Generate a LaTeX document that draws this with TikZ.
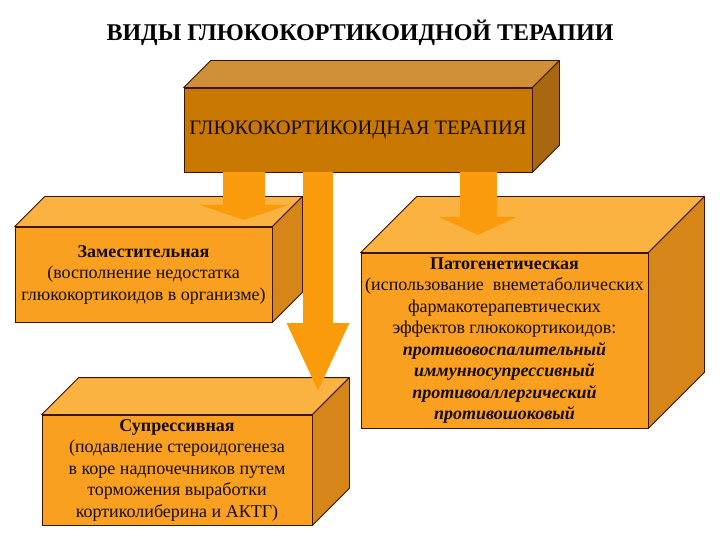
\documentclass[tikz,border=0pt]{standalone}
\usepackage{fontspec}
\setmainfont{Liberation Serif}
\usetikzlibrary{arrows.meta, positioning}

\definecolor{darkfront}{RGB}{200,120,0}
\definecolor{darkup}{RGB}{208,144,56}
\definecolor{darkside}{RGB}{168,104,16}
\definecolor{lightfront}{RGB}{250,160,32}
\definecolor{lightup}{RGB}{250,178,64}
\definecolor{lightside}{RGB}{214,134,24}
\definecolor{arrowfill}{RGB}{250,155,12}
\definecolor{edge}{RGB}{60,20,0}

\begin{document}
\begin{tikzpicture}[
    x=1pt, y=-1pt,
    box/.style={rectangle, draw=edge, line width=0.8pt, fill=lightfront, align=center, inner sep=2pt, font=\fontsize{18}{21.5}\selectfont, text=black!90!brown},
    face/.style={draw=edge, line width=0.8pt, line join=round},
    fatarrow/.style={draw=arrowfill, line cap=butt}
]
\useasboundingbox[fill=white] (0,0) rectangle (720,540);

\node[font=\bfseries\fontsize{24}{28}\selectfont] (title) at (360,33) {ВИДЫ ГЛЮКОКОРТИКОИДНОЙ ТЕРАПИИ};

\node[box, fill=darkfront, font=\fontsize{20.5}{24}\selectfont, minimum width=348pt, minimum height=84pt] (top) at (358,130) {ГЛЮКОКОРТИКОИДНАЯ ТЕРАПИЯ};
\node[box, minimum width=257pt, minimum height=95pt] (zam) at (143.5,274.5) {\textbf{Заместительная}\\(восполнение недостатка\\глюкокортикоидов в организме)};
\node[box, minimum width=270pt, minimum height=110pt] (sup) at (177,470) {\textbf{Супрессивная}\\(подавление стероидогенеза\\в коре надпочечников путем\\торможения выработки\\кортиколиберина и АКТГ)};
\node[box, minimum width=287pt, minimum height=175pt] (pat) at (504.5,340.5) {\textbf{Патогенетическая}\\(использование\ \ внеметаболических\\фармакотерапевтических\\эффектов глюкокортикоидов:\\\textbf{\textit{противовоспалительный}}\\\textbf{\textit{иммунносупрессивный}}\\\textbf{\textit{противоаллергический}}\\\textbf{\textit{противошоковый}}};

% top and side faces of the boxes
\foreach \n/\d/\col in {top/27/dark, zam/30/light, sup/37/light, pat/56/light} {
  \draw[face, fill=\col up] (\n.north west) -- ++(\d,-\d) -- ([shift={(\d,-\d)}]\n.north east) -- (\n.north east) -- cycle;
  \draw[face, fill=\col side] (\n.north east) -- ++(\d,-\d) -- ([shift={(\d,-\d)}]\n.south east) -- (\n.south east) -- cycle;
}

\coordinate (zamtip) at (244,220);
\coordinate (suptip) at (318,393);
\coordinate (pattip) at (478,235);

\draw[fatarrow, line width=42pt, -{Triangle[width=88pt, length=15pt]}] (top.south -| zamtip) -- (zamtip);
\draw[fatarrow, line width=30pt, -{Triangle[width=57pt, length=70pt]}] (top.south -| suptip) -- (suptip);
\draw[fatarrow, line width=37pt, -{Triangle[width=77pt, length=18pt]}] (top.south -| pattip) -- (pattip);

\end{tikzpicture}
\end{document}
